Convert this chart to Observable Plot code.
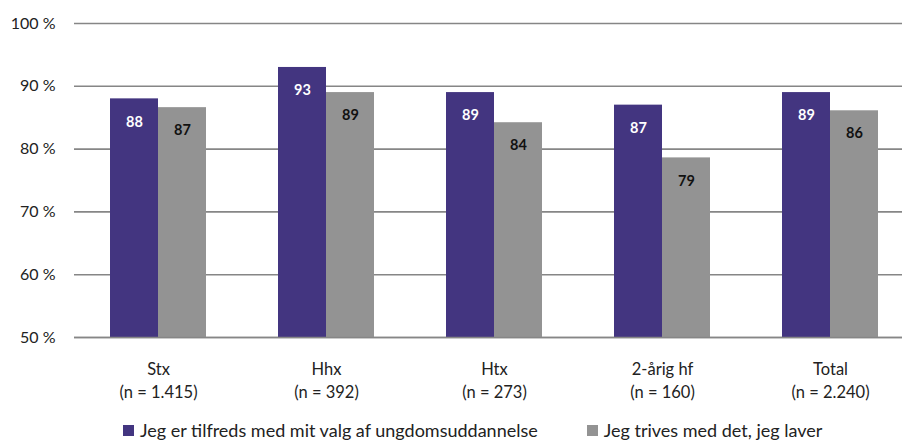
<!DOCTYPE html>
<html>
<head>
<meta charset="utf-8">
<script src="https://cdn.jsdelivr.net/npm/d3@7"></script>
<script src="https://cdn.jsdelivr.net/npm/@observablehq/plot@0.6"></script>
<style>
  html, body { margin: 0; padding: 0; background: #fff; }
  body { width: 902px; height: 443px; overflow: hidden; font-family: Lato, "Noto Sans", sans-serif; }
  #legend { display: flex; align-items: center; height: 30px; padding-left: 123px; font-size: 18px; color: #222; }
  .item { display: flex; align-items: center; }
  .sw { width: 11px; height: 11px; margin-right: 6px; }
</style>
</head>
<body>
<div id="chart"></div>
<div id="legend"></div>
<script>
const categories = ["Stx", "Hhx", "Htx", "2-årig hf", "Total"];
const nLabels = ["(n = 1.415)", "(n = 392)", "(n = 273)", "(n = 160)", "(n = 2.240)"];
const seriesNames = ["Jeg er tilfreds med mit valg af ungdomsuddannelse", "Jeg trives med det, jeg laver"];
const tilfreds = [88, 93, 89, 87, 89];
const trives = [86.6, 89, 84.2, 78.6, 86.1];
const yTicks = [50, 60, 70, 80, 90, 100];
const colors = ["#433580", "#939393"];
const labelColors = ["#ffffff", "#111111"];

const data = [];
categories.forEach((c, i) => {
  data.push({cat: c, series: 0, value: tilfreds[i]});
  data.push({cat: c, series: 1, value: trives[i]});
});

const half = 48;
const mk = (s) => data.filter(d => d.series === s);

const chart = Plot.plot({
  width: 902,
  height: 415,
  marginLeft: 74,
  marginRight: 0,
  marginTop: 23,
  marginBottom: 78,
  style: {fontFamily: "Lato, 'Noto Sans', sans-serif", fontSize: "16px", color: "#222"},
  x: {domain: categories, range: [74, 914], paddingInner: 0.4286, paddingOuter: 0.2143, axis: null},
  y: {domain: [50, 100], axis: null},
  marks: [
    Plot.ruleY(yTicks, {stroke: "#868686", strokeWidth: 1.6}),
    Plot.barY(mk(0), {x: "cat", y1: 50, y2: "value", fill: colors[0], insetRight: half}),
    Plot.barY(mk(1), {x: "cat", y1: 50, y2: "value", fill: colors[1], insetLeft: half}),
    Plot.ruleY([50], {stroke: "#868686", strokeWidth: 1.6}),
    Plot.text(mk(0), {x: "cat", y: "value", text: d => Math.round(d.value), dx: -24, dy: 23, fill: labelColors[0], fontSize: 14.5, fontWeight: "bold"}),
    Plot.text(mk(1), {x: "cat", y: "value", text: d => Math.round(d.value), dx: 24, dy: 23, fill: labelColors[1], fontSize: 14.5, fontWeight: "bold"}),
    Plot.axisY(yTicks, {tickSize: 0, tickPadding: 19, tickFormat: d => d + " %", fontSize: 16, label: null}),
    Plot.text(categories, {x: d => d, frameAnchor: "bottom", lineAnchor: "top", dy: 21, lineHeight: 1.4, fontSize: 16.5, text: (d, i) => d + "\n" + nLabels[i]})
  ]
});
document.getElementById("chart").appendChild(chart);

const legend = document.getElementById("legend");
seriesNames.forEach((name, i) => {
  const it = document.createElement("div");
  it.className = "item";
  if (i > 0) it.style.marginLeft = "49px";
  const sw = document.createElement("span");
  sw.className = "sw";
  sw.style.background = colors[i];
  const tx = document.createElement("span");
  tx.textContent = name;
  it.appendChild(sw);
  it.appendChild(tx);
  legend.appendChild(it);
});
</script>
</body>
</html>
